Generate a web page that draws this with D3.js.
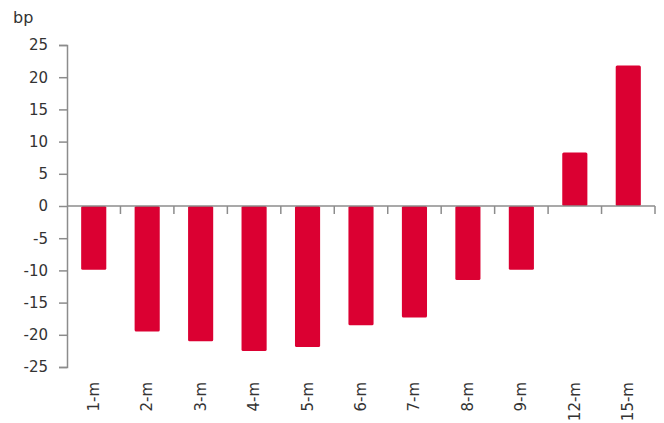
<!DOCTYPE html>
<html>
<head>
<meta charset="utf-8">
<script src="https://cdn.jsdelivr.net/npm/d3@7"></script>
<style>
  body { margin: 0; background: #fff; }
  svg { display: block; font-family: "DejaVu Sans", Verdana, sans-serif; }
</style>
</head>
<body>
<svg id="chart" width="664" height="423"></svg>
<script>
// bar chart, change in bp by tenor
var categories = ["1-m", "2-m", "3-m", "4-m", "5-m", "6-m", "7-m", "8-m", "9-m", "12-m", "15-m"];
var values = [-9.9, -19.5, -21.0, -22.5, -21.9, -18.5, -17.3, -11.5, -9.9, 8.3, 21.8];
var yTicks = [-25, -20, -15, -10, -5, 0, 5, 10, 15, 20, 25];

var svg = d3.select("#chart"),
    margin = {top: 45, right: 9, bottom: 56, left: 67},
    width = +svg.attr("width") - margin.left - margin.right,
    height = +svg.attr("height") - margin.top - margin.bottom,
    g = svg.append("g").attr("transform", "translate(" + margin.left + "," + margin.top + ")");

var x = d3.scaleBand().domain(categories).range([0, width]).paddingInner(0.53).paddingOuter(0.265);
var xb = d3.scaleBand().domain(categories).range([0, width]);
var y = d3.scaleLinear().domain([-25, 25]).range([height, 0]);

var axisColor = "#8c8c8c", textColor = "#333";

// bars
g.selectAll(".bar")
  .data(values)
  .enter().append("rect")
    .attr("class", "bar")
    .attr("x", (d, i) => x(categories[i]))
    .attr("width", x.bandwidth())
    .attr("y", d => y(Math.max(0, d)))
    .attr("height", d => Math.abs(y(d) - y(0)))
    .attr("rx", 1.5)
    .attr("fill", "#db0032");

// y axis (plain hyphen for negatives, like the original)
var yAxis = g.append("g")
  .call(d3.axisLeft(y).tickValues(yTicks).tickSize(8).tickPadding(11).tickFormat(d => String(d)));
yAxis.select(".domain").attr("stroke", axisColor).attr("stroke-width", 1.5);
yAxis.selectAll(".tick line").attr("stroke", axisColor).attr("stroke-width", 1.5);
yAxis.selectAll(".tick text").attr("fill", textColor).attr("font-size", 15)
  .attr("font-family", "DejaVu Sans, Verdana, sans-serif");

// zero line with category boundary ticks
var zero = g.append("g").attr("transform", "translate(0," + y(0) + ")");
zero.append("line").attr("x1", 0).attr("x2", width)
  .attr("stroke", axisColor).attr("stroke-width", 1.5);
zero.selectAll(".bt")
  .data(categories)
  .enter().append("line")
    .attr("x1", d => xb(d) + xb.bandwidth())
    .attr("x2", d => xb(d) + xb.bandwidth())
    .attr("y1", 0).attr("y2", 8)
    .attr("stroke", axisColor).attr("stroke-width", 1.5);

// category labels, rotated
g.selectAll(".xl")
  .data(categories)
  .enter().append("text")
    .attr("class", "xl")
    .attr("transform", d => "translate(" + (xb(d) + xb.bandwidth() / 2 + 5) + "," + (height + 15) + ") rotate(-90)")
    .attr("text-anchor", "end")
    .attr("font-size", 15)
    .attr("fill", textColor)
    .text(d => d);

// unit label
svg.append("text")
  .attr("x", 13).attr("y", 23)
  .attr("font-size", 16)
  .attr("fill", textColor)
  .text("bp");
</script>
</body>
</html>
